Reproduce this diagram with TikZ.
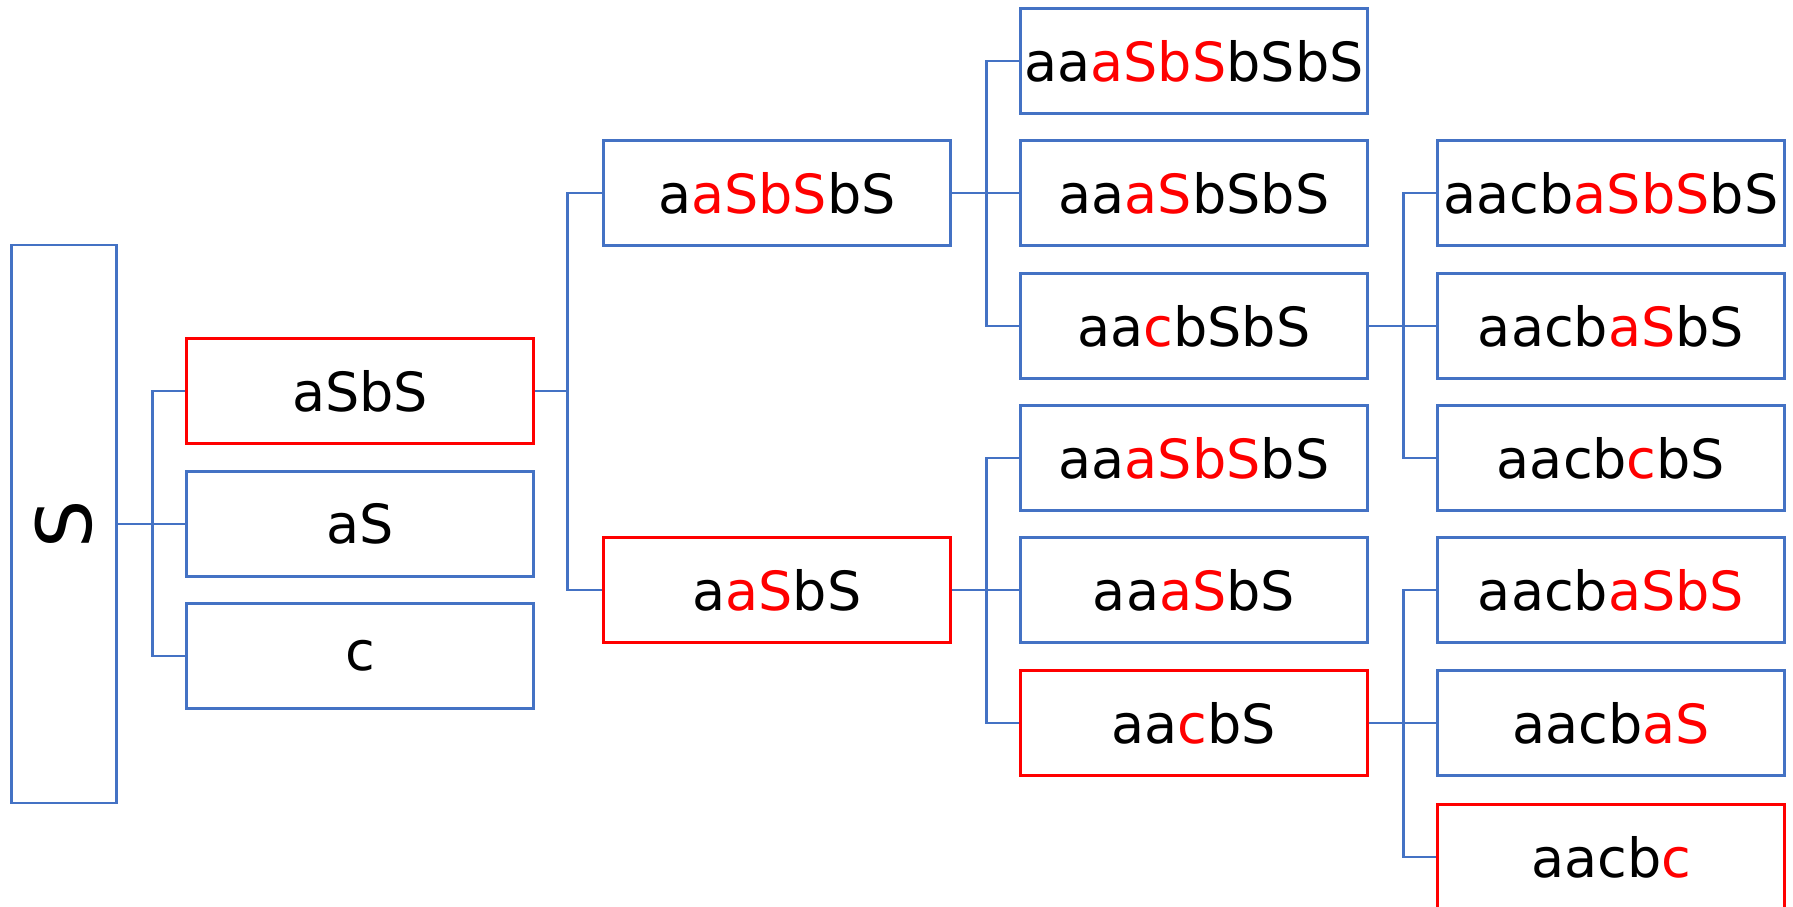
\documentclass[tikz,border=0pt]{standalone}
\usepackage{fontspec}
\usepackage{graphicx}
\setmainfont{DejaVu Sans}
\definecolor{treeblue}{HTML}{4472C4}
\definecolor{hired}{HTML}{FF0000}
\newcommand{\hi}[1]{\textcolor{hired}{#1}}
\tikzset{
  word/.style={draw=treeblue, line width=1.1pt, minimum width=173.5pt,
    minimum height=52.5pt, inner sep=0pt, font=\fontsize{27}{32}\selectfont},
  chosen/.style={word, draw=hired},
  link/.style={draw=treeblue, line width=1.2pt},
}
\begin{document}
\begin{tikzpicture}[x=0.5pt, y=-0.5pt]
      \useasboundingbox (0,0) rectangle (1793,906);
      \draw
        (64,524) node[word, minimum width=52.5pt, minimum height=279pt,
          font=\fontsize{38}{44}\selectfont] (0){\rotatebox{90}{S}}
        (360,391) node[chosen] (1){aSbS}
        (360,524) node[word] (2){aS}
        (360,656) node[word] (3){c}
        (777,193) node[word] (4){a\hi{aSbS}bS}
        (777,590) node[chosen] (5){a\hi{aS}bS}
        (1194,61) node[word] (6){aa\hi{aSbS}bSbS}
        (1194,193) node[word] (7){aa\hi{aS}bSbS}
        (1194,326) node[word] (8){aa\hi{c}bSbS}
        (1194,458) node[word] (9){aa\hi{aSbS}bS}
        (1194,590) node[word] (10){aa\hi{aS}bS}
        (1194,723) node[chosen] (11){aa\hi{c}bS}
        (1611,193) node[word] (12){aacb\hi{aSbS}bS}
        (1611,326) node[word] (13){aacb\hi{aS}bS}
        (1611,458) node[word] (14){aacb\hi{c}bS}
        (1611,590) node[word] (15){aacb\hi{aSbS}}
        (1611,723) node[word] (16){aacb\hi{aS}}
        (1611,857) node[chosen] (17){aacb\hi{c}};
      \begin{scope}[link]
        \draw (0.east) -- ++(35,0) |- (1.west);
        \draw (0.east) -- ++(35,0) |- (2.west);
        \draw (0.east) -- ++(35,0) |- (3.west);
        \draw (1.east) -- ++(33,0) |- (4.west);
        \draw (1.east) -- ++(33,0) |- (5.west);
        \draw (4.east) -- ++(35,0) |- (6.west);
        \draw (4.east) -- ++(35,0) |- (7.west);
        \draw (4.east) -- ++(35,0) |- (8.west);
        \draw (5.east) -- ++(35,0) |- (9.west);
        \draw (5.east) -- ++(35,0) |- (10.west);
        \draw (5.east) -- ++(35,0) |- (11.west);
        \draw (8.east) -- ++(35,0) |- (12.west);
        \draw (8.east) -- ++(35,0) |- (13.west);
        \draw (8.east) -- ++(35,0) |- (14.west);
        \draw (11.east) -- ++(35,0) |- (15.west);
        \draw (11.east) -- ++(35,0) |- (16.west);
        \draw (11.east) -- ++(35,0) |- (17.west);
      \end{scope}
    \end{tikzpicture}
\end{document}
